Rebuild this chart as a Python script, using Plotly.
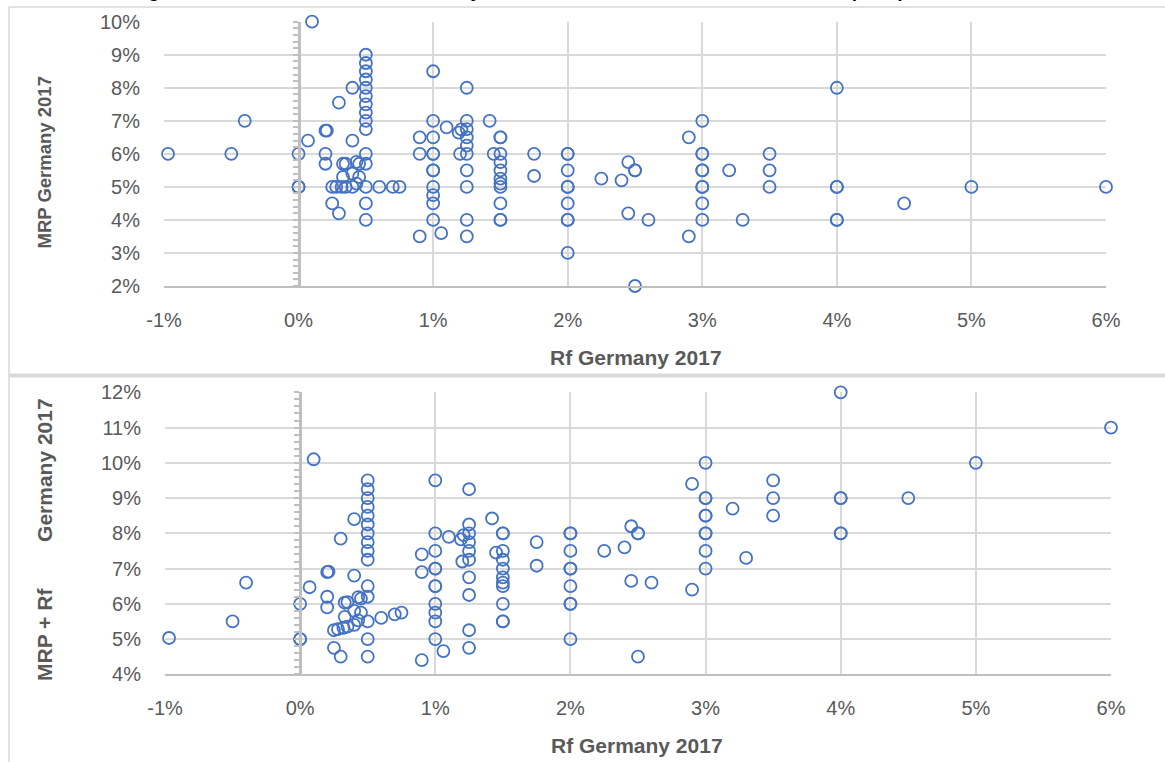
import plotly.graph_objects as go

# ---------------- data (values in %) ----------------
rf = [
    -0.97, -0.5, -0.4,
    0.0, 0.0, 0.0, 0.07, 0.1,
    0.2, 0.2, 0.21, 0.2, 0.25, 0.3, 0.3, 0.4, 0.4,
    0.33, 0.35, 0.4, 0.43, 0.45, 0.45, 0.33,
    0.25, 0.28, 0.32, 0.35, 0.4, 0.43,
    0.5, 0.5, 0.5, 0.5, 0.5, 0.5, 0.5, 0.5, 0.5, 0.5, 0.5, 0.5, 0.5, 0.5, 0.5,
    0.6, 0.7, 0.75, 0.9, 0.9, 0.9,
    1.0, 1.0, 1.0, 1.0, 1.0, 1.0, 1.0, 1.0, 1.0, 1.0, 1.0,
    1.06, 1.1, 1.19, 1.21, 1.2,
    1.25, 1.25, 1.25, 1.25, 1.25, 1.25, 1.25, 1.25, 1.25, 1.25,
    1.42, 1.45,
    1.5, 1.5, 1.5, 1.5, 1.5, 1.5, 1.5, 1.5, 1.5, 1.5, 1.5,
    1.75, 1.75,
    2.0, 2.0, 2.0, 2.0, 2.0, 2.0, 2.0, 2.0, 2.0,
    2.25, 2.4, 2.45, 2.5, 2.5, 2.45, 2.6, 2.5,
    2.9, 2.9,
    3.0, 3.0, 3.0, 3.0, 3.0, 3.0, 3.0, 3.0, 3.0,
    3.2, 3.3, 3.5, 3.5, 3.5,
    4.0, 4.0, 4.0, 4.0, 4.0,
    4.5, 5.0, 6.0,
]
mrp = [
    6.0, 6.0, 7.0,
    6.0, 5.0, 5.0, 6.4, 10.0,
    6.0, 6.7, 6.7, 5.7, 4.5, 4.2, 7.55, 8.0, 6.4,
    5.7, 5.7, 5.4, 5.76, 5.7, 5.3, 5.3,
    5.0, 5.0, 5.0, 5.0, 5.0, 5.1,
    9.0, 8.75, 8.5, 8.25, 8.0, 7.75, 7.5, 7.25, 7.0, 6.75, 6.0, 5.7, 5.0, 4.5, 4.0,
    5.0, 5.0, 5.0, 6.0, 6.5, 3.5,
    8.5, 7.0, 6.5, 6.0, 6.0, 5.5, 5.5, 5.0, 4.75, 4.5, 4.0,
    3.6, 6.8, 6.64, 6.74, 6.0,
    8.0, 7.0, 6.75, 6.5, 6.25, 6.0, 5.5, 5.0, 4.0, 3.5,
    7.0, 6.0,
    6.5, 6.5, 6.0, 5.75, 5.5, 5.25, 5.1, 5.0, 4.5, 4.0, 4.0,
    6.0, 5.33,
    6.0, 6.0, 5.5, 5.0, 5.0, 4.5, 4.0, 4.0, 3.0,
    5.25, 5.2, 5.75, 5.5, 5.5, 4.2, 4.0, 2.0,
    6.5, 3.5,
    7.0, 6.0, 6.0, 5.5, 5.5, 5.0, 5.0, 4.5, 4.0,
    5.5, 4.0, 6.0, 5.5, 5.0,
    8.0, 5.0, 5.0, 4.0, 4.0,
    4.5, 5.0, 5.0,
]
# bottom chart plots MRP + Rf
mrp_plus_rf = [round(m + r, 2) for m, r in zip(mrp, rf)]

x_tick_vals = [-1, 0, 1, 2, 3, 4, 5, 6]
x_tick_text = ["-1%", "0%", "1%", "2%", "3%", "4%", "5%", "6%"]
y_top_vals = [2, 3, 4, 5, 6, 7, 8, 9, 10]
y_top_text = ["2%", "3%", "4%", "5%", "6%", "7%", "8%", "9%", "10%"]
y_bot_vals = [4, 5, 6, 7, 8, 9, 10, 11, 12]
y_bot_text = ["4%", "5%", "6%", "7%", "8%", "9%", "10%", "11%", "12%"]

title_text = ("Figure 6. MRP and Rf used in Germany in 2017 and in the "
              "Market Risk Premium (MRP) used in 2017")
x_title = "Rf Germany 2017"
y_title_top = "MRP Germany 2017"
y_title_bot = "MRP + Rf" + "\u00a0" * 8 + "Germany 2017"

# ---------------- layout helpers ----------------
W, H = 1165, 762
def px_x(p):
    return p / W
def px_y(p):
    return 1 - p / H

X_RANGE = [-1, 6]
top_xdom = [px_x(164), px_x(1106)]
top_ydom = [px_y(286), px_y(21.7)]
bot_xdom = [px_x(165), px_x(1111)]
bot_ydom = [px_y(674.3), px_y(392.3)]

def zero_pos(dom):
    return dom[0] + (0 - X_RANGE[0]) / (X_RANGE[1] - X_RANGE[0]) * (dom[1] - dom[0])

BLUE = "#4472C4"
GRID = "#D9D9D9"
AXIS = "#BFBFBF"
TXT = "#595959"
TICKFONT = dict(family="Liberation Sans, Arial, sans-serif", size=20, color=TXT)

marker = dict(symbol="circle", size=12, color="rgba(255,255,255,0)",
              line=dict(color=BLUE, width=1.8))

fig = go.Figure()
fig.add_trace(go.Scatter(x=rf, y=mrp, mode="markers", marker=marker, cliponaxis=False,
                         xaxis="x", yaxis="y", showlegend=False))
fig.add_trace(go.Scatter(x=rf, y=mrp_plus_rf, mode="markers", marker=marker,
                         cliponaxis=False, xaxis="x2", yaxis="y2", showlegend=False))
# carriers for the vertical axes that cross at Rf = 0
fig.add_trace(go.Scatter(x=[None], y=[None], mode="markers", xaxis="x", yaxis="y3",
                         showlegend=False, hoverinfo="skip"))
fig.add_trace(go.Scatter(x=[None], y=[None], mode="markers", xaxis="x2", yaxis="y4",
                         showlegend=False, hoverinfo="skip"))

def xaxis(dom, anchor):
    return dict(domain=dom, anchor=anchor, range=X_RANGE, tickvals=x_tick_vals,
                ticktext=x_tick_text, showgrid=True, gridcolor=GRID, gridwidth=1.6,
                zeroline=False, showline=True, linecolor=AXIS, linewidth=2,
                ticks="outside", ticklen=15, tickcolor="rgba(0,0,0,0)",
                tickfont=TICKFONT, fixedrange=True, automargin=False)

def yaxis(dom, anchor, rng, vals, text):
    return dict(domain=dom, anchor=anchor, range=rng, tickvals=vals, ticktext=text,
                showgrid=True, gridcolor=GRID, gridwidth=1.6, zeroline=False,
                showline=False, ticks="outside", ticklen=19,
                tickcolor="rgba(0,0,0,0)", tickfont=TICKFONT, fixedrange=True,
                automargin=False)

def cross_axis(overlay, pos, rng):
    return dict(overlaying=overlay, anchor="free", position=pos, range=rng,
                showgrid=False, zeroline=False, showline=True, linecolor=AXIS,
                linewidth=2.5, ticks="outside", ticklen=5, tickwidth=1.5,
                tickcolor=AXIS, tick0=rng[0], dtick=0.2, showticklabels=False,
                fixedrange=True, automargin=False)

fig.update_layout(
    width=W, height=H, autosize=False,
    margin=dict(l=0, r=0, t=0, b=0, pad=0, autoexpand=False),
    paper_bgcolor="white", plot_bgcolor="white",
    xaxis=xaxis(top_xdom, "y"),
    yaxis=yaxis(top_ydom, "x", [2, 10], y_top_vals, y_top_text),
    xaxis2=xaxis(bot_xdom, "y2"),
    yaxis2=yaxis(bot_ydom, "x2", [4, 12], y_bot_vals, y_bot_text),
    yaxis3=cross_axis("y", zero_pos(top_xdom), [2, 10]),
    yaxis4=cross_axis("y2", zero_pos(bot_xdom), [4, 12]),
)

BOLD = "Liberation Sans, Arial, sans-serif"

annotations = [
    dict(text="<b>%s</b>" % title_text, x=px_x(129), y=px_y(3.5), xref="paper",
         yref="paper", xanchor="left", yanchor="bottom", showarrow=False,
         font=dict(family=BOLD, size=19, color="black")),
    dict(text="<b>%s</b>" % y_title_top, x=px_x(44), y=px_y(162.5), xref="paper",
         yref="paper", textangle=-90, showarrow=False, xanchor="center", yanchor="middle",
         font=dict(family=BOLD, size=18.5, color=TXT)),
    dict(text="<b>%s</b>" % y_title_bot, x=px_x(44), y=px_y(540), xref="paper",
         yref="paper", textangle=-90, showarrow=False, xanchor="center", yanchor="middle",
         font=dict(family=BOLD, size=21, color=TXT)),
    dict(text="<b>%s</b>" % x_title, x=px_x(636), y=px_y(357), xref="paper", yref="paper",
         showarrow=False, xanchor="center", yanchor="middle",
         font=dict(family=BOLD, size=21, color=TXT)),
    dict(text="<b>%s</b>" % x_title, x=px_x(637), y=px_y(745), xref="paper", yref="paper",
         showarrow=False, xanchor="center", yanchor="middle",
         font=dict(family=BOLD, size=21, color=TXT)),
]
fig.update_layout(annotations=annotations)

shapes = [
    # top chart frame
    dict(type="line", xref="paper", yref="paper", x0=px_x(9), x1=1.0, y0=px_y(7), y1=px_y(7),
         line=dict(color=GRID, width=1.5)),
    dict(type="line", xref="paper", yref="paper", x0=px_x(9), x1=px_x(9), y0=px_y(7), y1=0,
         line=dict(color=GRID, width=1.5)),
    # separator between the two charts
    dict(type="line", xref="paper", yref="paper", x0=px_x(9), x1=1.0, y0=px_y(375.5),
         y1=px_y(375.5), line=dict(color=GRID, width=4)),
]
fig.update_layout(shapes=shapes)

fig.write_html(
    "out.html",
    config={"displayModeBar": False},
    post_script="document.body.style.margin='0';"
                "document.documentElement.style.overflow='hidden';",
)
